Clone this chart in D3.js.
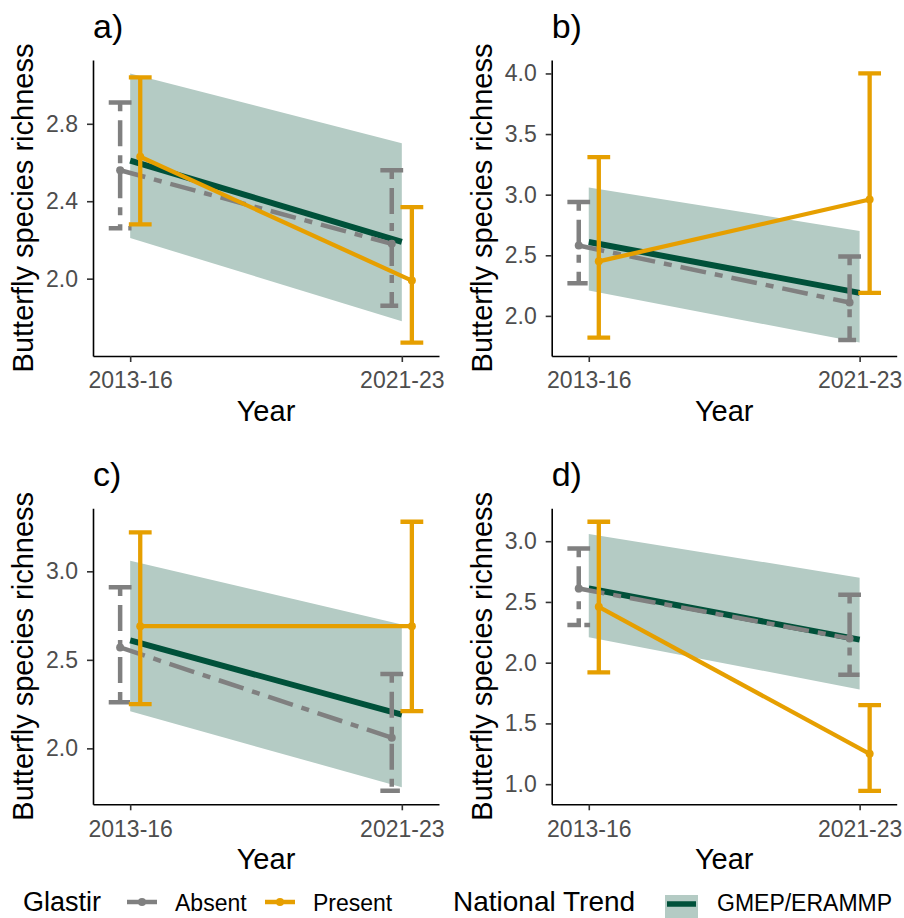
<!DOCTYPE html>
<html>
<head>
<meta charset="utf-8">
<script src="https://cdn.jsdelivr.net/npm/d3@7"></script>
<style>
  body { margin: 0; background: #fff; }
  text { font-family: "Liberation Sans", Arial, sans-serif; }
</style>
</head>
<body>
<div id="chart"></div>
<script>
// ---- data ----
var years = ["2013-16", "2021-23"];
var panelLabels = ["a)", "b)", "c)", "d)"];

// national trend (same in every panel)
var trendMean = [2.61, 2.19];
var trendLower = [2.21, 1.78];
var trendUpper = [3.06, 2.70];

// Glastir absent, per panel [2013-16, 2021-23]
var absentMean = [[2.56, 2.18], [2.58, 2.11], [2.57, 2.06], [2.61, 2.20]];
var absentLower = [[2.26, 1.86], [2.27, 1.80], [2.26, 1.76], [2.31, 1.90]];
var absentUpper = [[2.91, 2.56], [2.94, 2.49], [2.91, 2.42], [2.94, 2.56]];

// Glastir present
var presentMean = [[2.63, 1.99], [2.45, 2.96], [2.69, 2.69], [2.46, 1.25]];
var presentLower = [[2.28, 1.67], [1.82, 2.19], [2.25, 2.21], [1.92, 0.945]];
var presentUpper = [[3.04, 2.37], [3.31, 4.00], [3.22, 3.28], [3.16, 1.65]];

var yTicks = [[2.0, 2.4, 2.8], [2.0, 2.5, 3.0, 3.5, 4.0], [2.0, 2.5, 3.0], [1.0, 1.5, 2.0, 2.5, 3.0]];

// ---- styling ----
var grey = "#808080", orange = "#E69F00", green = "#00513A", ribbonFill = "#b4cbc4";
var dash = "26,9,8,9";
var dodge = 0.037, capHalf = 0.042;

var svg = d3.select("#chart").append("svg")
    .attr("width", 904).attr("height", 918);

// panel plot areas
var boxes = [
    {l: 93, r: 439, t: 60, b: 356},
    {l: 551.7, r: 896.7, t: 60, b: 356},
    {l: 93, r: 439, t: 508.3, b: 804.3},
    {l: 551.7, r: 896.7, t: 508.3, b: 804.3}
];

function expand(lo, hi) {
    var e = (hi - lo) * 0.05;
    return [lo - e, hi + e];
}

var xDom = expand(1 - dodge - capHalf, 2 + dodge + capHalf);

boxes.forEach(function(box, p) {
    var g = svg.append("g");

    var allVals = trendLower.concat(trendUpper, absentLower[p], absentUpper[p], presentLower[p], presentUpper[p]);
    var yDom = expand(d3.min(allVals), d3.max(allVals));

    var x = d3.scaleLinear().domain(xDom).range([box.l, box.r]);
    var y = d3.scaleLinear().domain(yDom).range([box.b, box.t]);

    // national trend ribbon + line
    var area = d3.area()
        .x(function(d, i) { return x(i + 1); })
        .y0(function(d, i) { return y(trendLower[i]); })
        .y1(function(d, i) { return y(trendUpper[i]); });
    g.append("path").attr("d", area(years)).attr("fill", ribbonFill);

    var tline = d3.line()
        .x(function(d, i) { return x(i + 1); })
        .y(function(d) { return y(d); });
    g.append("path").attr("d", tline(trendMean))
        .attr("fill", "none").attr("stroke", green).attr("stroke-width", 6);

    function drawGroup(mean, lower, upper, off, color, width, dashed) {
        var xs = [1 + off, 2 + off];
        mean.forEach(function(m, i) {
            var cx = xs[i];
            var pts = [
                [cx - capHalf, upper[i]], [cx + capHalf, upper[i]], [cx, upper[i]],
                [cx, lower[i]], [cx - capHalf, lower[i]], [cx + capHalf, lower[i]]
            ];
            g.append("path")
                .attr("d", d3.line().x(function(d) { return x(d[0]); }).y(function(d) { return y(d[1]); })(pts))
                .attr("fill", "none").attr("stroke", color).attr("stroke-width", width)
                .attr("stroke-dasharray", dashed ? dash : null);
        });
        g.append("path")
            .attr("d", d3.line().x(function(d, i) { return x(xs[i]); }).y(function(d) { return y(d); })(mean))
            .attr("fill", "none").attr("stroke", color).attr("stroke-width", width)
            .attr("stroke-dasharray", dashed ? dash : null);
        g.selectAll(null).data(mean).enter().append("circle")
            .attr("cx", function(d, i) { return x(xs[i]); })
            .attr("cy", function(d) { return y(d); })
            .attr("r", 4).attr("fill", color);
    }

    drawGroup(absentMean[p], absentLower[p], absentUpper[p], -dodge, grey, 4.5, true);
    drawGroup(presentMean[p], presentLower[p], presentUpper[p], dodge, orange, 4.3, false);

    // axes
    var yAxis = g.append("g").attr("transform", "translate(" + box.l + ",0)")
        .call(d3.axisLeft(y).tickValues(yTicks[p]).tickFormat(d3.format(".1f"))
            .tickSize(6).tickSizeOuter(0).tickPadding(9));
    var xAxis = g.append("g").attr("transform", "translate(0," + box.b + ")")
        .call(d3.axisBottom(x).tickValues([1, 2]).tickFormat(function(d) { return years[d - 1]; })
            .tickSize(6).tickSizeOuter(0).tickPadding(10));
    [yAxis, xAxis].forEach(function(ax) {
        ax.select(".domain").attr("stroke", "#000").attr("stroke-width", 1.6);
        ax.selectAll(".tick line").attr("stroke", "#333").attr("stroke-width", 1.6);
        ax.selectAll(".tick text").attr("fill", "#4d4d4d").style("font-size", "23px")
            .style("font-family", "'Liberation Sans', Arial, sans-serif");
    });

    // titles
    g.append("text")
        .attr("x", (box.l + box.r) / 2).attr("y", box.b + 65)
        .attr("text-anchor", "middle").style("font-size", "29px").text("Year");
    g.append("text")
        .attr("transform", "translate(" + (box.l - 60) + "," + ((box.t + box.b) / 2) + ") rotate(-90)")
        .attr("text-anchor", "middle").style("font-size", "29px").text("Butterfly species richness");
    g.append("text")
        .attr("x", box.l).attr("y", box.t - 22)
        .style("font-size", "34px").text(panelLabels[p]);
});

// ---- legend ----
var lg = svg.append("g");
lg.append("text").attr("x", 23).attr("y", 911).style("font-size", "27px").text("Glastir");
[[127, grey, "Absent", 175], [265, orange, "Present", 313]].forEach(function(k) {
    lg.append("line").attr("x1", k[0]).attr("x2", k[0] + 30).attr("y1", 902).attr("y2", 902)
        .attr("stroke", k[1]).attr("stroke-width", 4.5);
    lg.append("circle").attr("cx", k[0] + 15).attr("cy", 902).attr("r", 4).attr("fill", k[1]);
    lg.append("text").attr("x", k[3]).attr("y", 911).style("font-size", "23px").text(k[2]);
});
lg.append("text").attr("x", 453).attr("y", 911).style("font-size", "28px").text("National Trend");
lg.append("rect").attr("x", 665).attr("y", 895).attr("width", 33).attr("height", 30).attr("fill", ribbonFill);
lg.append("line").attr("x1", 667).attr("x2", 696).attr("y1", 904).attr("y2", 904)
    .attr("stroke", green).attr("stroke-width", 5.5);
lg.append("text").attr("x", 717).attr("y", 911).style("font-size", "23px").text("GMEP/ERAMMP");
</script>
</body>
</html>
